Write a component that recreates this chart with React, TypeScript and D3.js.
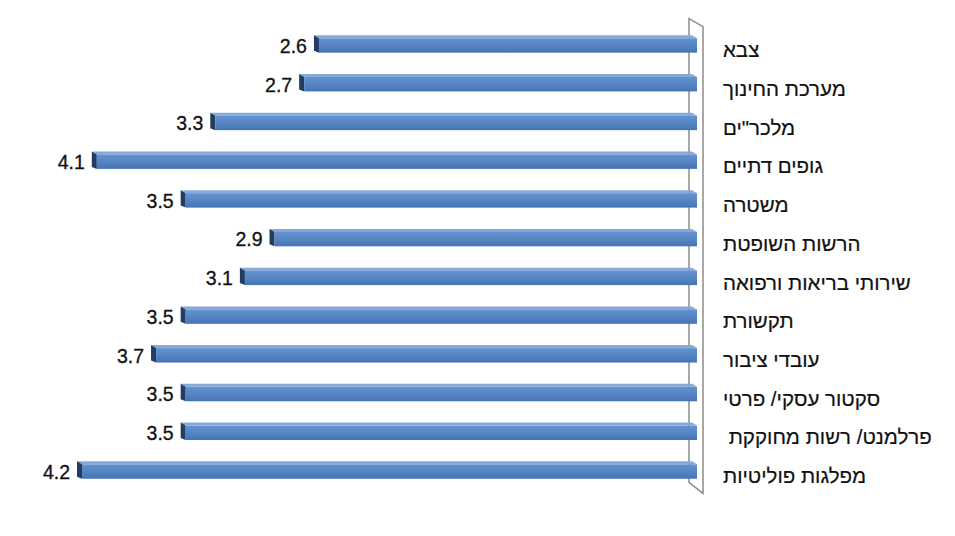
import * as d3 from "d3";

const categories: string[] = [
  "צבא",
  "מערכת החינוך",
  "מלכר\"ים",
  "גופים דתיים",
  "משטרה",
  "הרשות השופטת",
  "שירותי בריאות ורפואה",
  "תקשורת",
  "עובדי ציבור",
  "סקטור עסקי/ פרטי",
  " פרלמנט/ רשות מחוקקת",
  "מפלגות פוליטיות",
];
const values: number[] = [2.6, 2.7, 3.3, 4.1, 3.5, 2.9, 3.1, 3.5, 3.7, 3.5, 3.5, 4.2];

const W = 955;
const H = 536;
const depthX = -5;
const depthY = -3;

export default function App() {
  const x = d3.scaleLinear().domain([0, 4.2]).range([704, 82]);
  const y = d3
    .scaleBand<string>()
    .domain(categories)
    .range([24.6, 489.4])
    .paddingInner(0.55)
    .paddingOuter(0.275);

  const bw = y.bandwidth();
  const barEnd = 697;
  const wallTop = y.range()[0] - 6;
  const wallBot = y.range()[1] - 7;

  const pts = (p: [number, number][]) => p.map((d) => d.join(",")).join(" ");

  return (
    <svg
      width={W}
      height={H}
      style={{ display: "block", position: "absolute", left: 0, top: 0, background: "#fff" }}
      fontFamily="'Liberation Sans', Arial, sans-serif"
    >
      <defs>
        <linearGradient id="front" x1="0" y1="0" x2="0" y2="1">
          <stop offset="0%" stopColor="#6593d0" />
          <stop offset="50%" stopColor="#5685c4" />
          <stop offset="100%" stopColor="#4674b2" />
        </linearGradient>
      </defs>

      {/* axis wall */}
      <polygon
        points={pts([
          [689, wallTop],
          [703, wallTop + 8],
          [703, wallBot + 11],
          [689, wallBot],
        ])}
        fill="#fff"
        stroke="#8c8c8c"
        strokeWidth={1.5}
      />

      {categories.map((c, i) => {
        const yT = (y(c) as number) + 3;
        const yB = (y(c) as number) + bw;
        const xL = x(values[i]);
        return (
          <g key={c}>
            <polygon
              points={pts([
                [xL, yT],
                [barEnd, yT],
                [barEnd + depthX, yT + depthY],
                [xL + depthX, yT + depthY],
              ])}
              fill="#86a9db"
            />
            <polygon
              points={pts([
                [xL, yT],
                [xL, yB],
                [xL + depthX, yB + depthY + 1],
                [xL + depthX, yT + depthY],
              ])}
              fill="#223c62"
            />
            <rect x={xL} y={yT} width={barEnd - xL} height={yB - yT} fill="url(#front)" />
            <text
              x={xL + depthX - 7}
              y={(y(c) as number) + bw / 2 + 2}
              dy="0.35em"
              textAnchor="end"
              fontSize={19.5}
              fill="#111"
              stroke="#111"
              strokeWidth={0.3}
            >
              {values[i].toFixed(1)}
            </text>
            <text
              x={723}
              y={(y(c) as number) + bw / 2 + 6}
              dy="0.35em"
              textAnchor="start"
              fontSize={20.5}
              fill="#111"
              stroke="#111"
              strokeWidth={0.2}
              style={{ whiteSpace: "pre" }}
            >
              {c}
            </text>
          </g>
        );
      })}
    </svg>
  );
}
